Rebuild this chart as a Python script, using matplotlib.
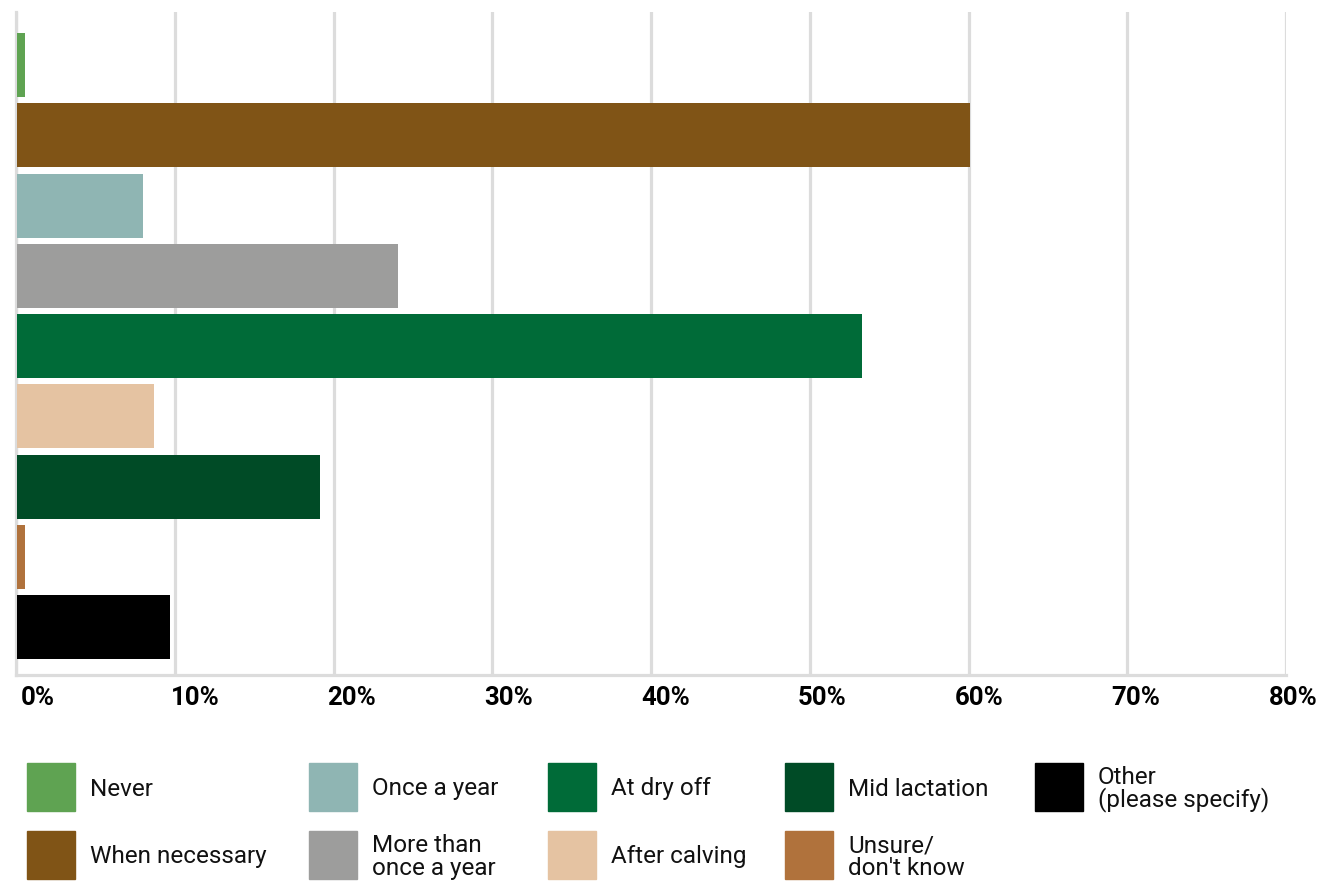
import matplotlib.pyplot as plt
from matplotlib.patches import Rectangle
from matplotlib.transforms import ScaledTranslation

plt.rcParams['font.family'] = ['Roboto', 'DejaVu Sans']

categories = ["Never", "When necessary", "Once a year", "More than\nonce a year",
              "At dry off", "After calving", "Mid lactation", "Unsure/\ndon't know",
              "Other\n(please specify)"]
values = [0.5, 60.0, 7.9, 24.0, 53.2, 8.6, 19.1, 0.5, 9.6]
colors = ["#5fa352", "#805416", "#8fb5b3", "#9d9d9c", "#006b38",
          "#e5c3a2", "#004b26", "#b0723c", "#000000"]
tick_vals = [0, 10, 20, 30, 40, 50, 60, 70, 80]
tick_labels = ["0%", "10%", "20%", "30%", "40%", "50%", "60%", "70%", "80%"]

fig = plt.figure(figsize=(13.2, 8.81), dpi=100)
ax = fig.add_axes([16 / 1320, 1 - 675 / 881, 1270 / 1320, 663 / 881])

ypos = list(range(len(categories)))
ax.barh(ypos, values, height=0.91, left=0.08, color=colors, zorder=3)

ax.set_xlim(0, 80)
ax.set_ylim(8.68, -0.755)
ax.set_yticks([])
ax.set_xticks(tick_vals)
ax.set_xticklabels(tick_labels, fontsize=18.5, fontweight='bold')
ax.tick_params(axis='x', length=0, pad=8)
ax.grid(axis='x', color='#dcdcdc', linewidth=2.3, zorder=0)
ax.set_axisbelow(True)

for s in ['top', 'right']:
    ax.spines[s].set_visible(False)
for s in ['left', 'bottom']:
    ax.spines[s].set_color('#dcdcdc')
    ax.spines[s].set_linewidth(2.3)

# tick labels sit a bit right of their gridlines
for i, lab in enumerate(ax.get_xticklabels()):
    dx = (22 - 15 * i / 8) / 100
    lab.set_transform(lab.get_transform() + ScaledTranslation(dx, 0, fig.dpi_scale_trans))

# legend, column-major in 5 columns x 2 rows
col_x = [27, 309, 548, 785, 1035]
row_y = [787, 855]
box = 48
for i, (cat, c) in enumerate(zip(categories, colors)):
    col, row = divmod(i, 2)
    x0 = col_x[col]
    yc = row_y[row]
    fig.add_artist(Rectangle((x0 / 1320, 1 - (yc + box / 2) / 881), box / 1320, box / 881,
                             transform=fig.transFigure, color=c))
    fig.text((x0 + 63) / 1320, 1 - (yc + 2) / 881, cat, fontsize=17.5, va='center',
             ha='left', linespacing=0.95, color='#111111')

fig.savefig("out.png", dpi=100)
